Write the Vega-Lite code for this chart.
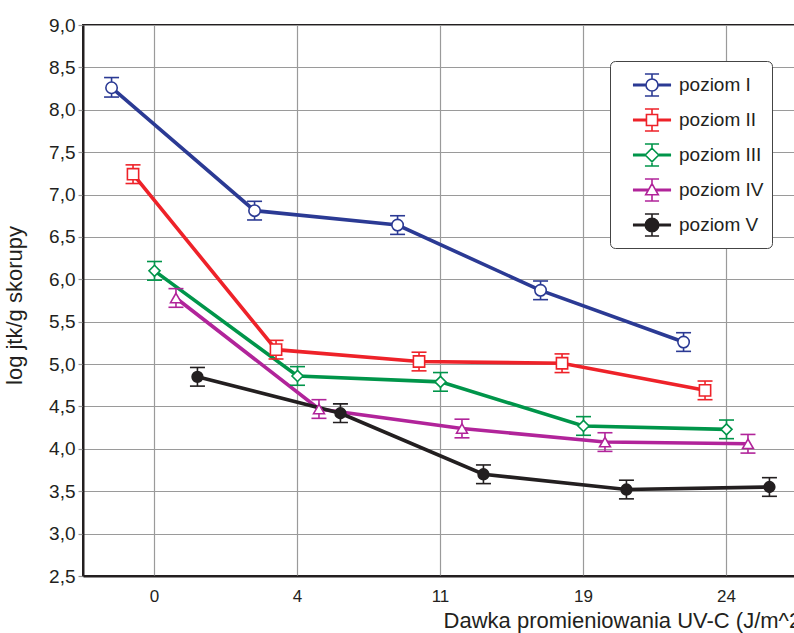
{
  "$schema": "https://vega.github.io/schema/vega-lite/v6.json",
  "autosize": {"type": "none"},
  "padding": {"left": 83, "top": 25, "right": 0, "bottom": 57},
  "width": 715,
  "height": 551,
  "background": "white",
  "config": {
    "font": "Liberation Sans",
    "view": {"stroke": "#231f20", "strokeWidth": 2},
    "axisY": {
      "labelFontSize": 19, "labelColor": "#231f20", "labelPadding": 3,
      "tickColor": "#999999", "tickSize": 5, "tickWidth": 1.2,
      "domainColor": "#231f20", "domainWidth": 2,
      "gridColor": "#9a9a9a", "gridWidth": 1.2, "gridOpacity": 1,
      "titleFontSize": 22, "titleFontWeight": "normal", "titleColor": "#231f20",
      "titleX": -57, "titleY": 280
    },
    "axisX": {
      "labelFontSize": 17, "labelColor": "#231f20", "labelPadding": 12,
      "ticks": false, "tickSize": 0, "labelAngle": 0,
      "domainColor": "#231f20", "domainWidth": 2,
      "gridColor": "#9a9a9a", "gridWidth": 1.2, "gridOpacity": 1,
      "titleFontSize": 22, "titleFontWeight": "normal", "titleColor": "#231f20",
      "titleAnchor": "end", "titleAlign": "right", "titleX": 725, "titlePadding": 6
    },
    "legend": {
      "orient": "none", "legendX": 527, "legendY": 36, "title": null,
      "labelFontSize": 19, "labelColor": "#231f20", "symbolSize": 900,
      "symbolStrokeWidth": 1.6, "symbolOpacity": 1, "labelOffset": 29,
      "rowPadding": 4, "padding": 8, "strokeColor": "#444444",
      "fillColor": "#ffffff", "cornerRadius": 5
    }
  },
  "data": {
    "values": [
      {"dose": "0", "series": "poziom I", "mean": 8.26, "lo": 8.15, "hi": 8.38},
      {"dose": "4", "series": "poziom I", "mean": 6.81, "lo": 6.70, "hi": 6.92},
      {"dose": "11", "series": "poziom I", "mean": 6.64, "lo": 6.53, "hi": 6.75},
      {"dose": "19", "series": "poziom I", "mean": 5.87, "lo": 5.76, "hi": 5.98},
      {"dose": "24", "series": "poziom I", "mean": 5.26, "lo": 5.15, "hi": 5.37},
      {"dose": "0", "series": "poziom II", "mean": 7.24, "lo": 7.13, "hi": 7.35},
      {"dose": "4", "series": "poziom II", "mean": 5.17, "lo": 5.06, "hi": 5.28},
      {"dose": "11", "series": "poziom II", "mean": 5.03, "lo": 4.92, "hi": 5.14},
      {"dose": "19", "series": "poziom II", "mean": 5.01, "lo": 4.90, "hi": 5.12},
      {"dose": "24", "series": "poziom II", "mean": 4.69, "lo": 4.58, "hi": 4.80},
      {"dose": "0", "series": "poziom III", "mean": 6.10, "lo": 5.99, "hi": 6.21},
      {"dose": "4", "series": "poziom III", "mean": 4.86, "lo": 4.75, "hi": 4.97},
      {"dose": "11", "series": "poziom III", "mean": 4.79, "lo": 4.68, "hi": 4.90},
      {"dose": "19", "series": "poziom III", "mean": 4.27, "lo": 4.16, "hi": 4.38},
      {"dose": "24", "series": "poziom III", "mean": 4.23, "lo": 4.12, "hi": 4.34},
      {"dose": "0", "series": "poziom IV", "mean": 5.78, "lo": 5.67, "hi": 5.89},
      {"dose": "4", "series": "poziom IV", "mean": 4.47, "lo": 4.36, "hi": 4.58},
      {"dose": "11", "series": "poziom IV", "mean": 4.24, "lo": 4.13, "hi": 4.35},
      {"dose": "19", "series": "poziom IV", "mean": 4.08, "lo": 3.97, "hi": 4.19},
      {"dose": "24", "series": "poziom IV", "mean": 4.06, "lo": 3.95, "hi": 4.17},
      {"dose": "0", "series": "poziom V", "mean": 4.85, "lo": 4.74, "hi": 4.96},
      {"dose": "4", "series": "poziom V", "mean": 4.42, "lo": 4.31, "hi": 4.53},
      {"dose": "11", "series": "poziom V", "mean": 3.70, "lo": 3.59, "hi": 3.81},
      {"dose": "19", "series": "poziom V", "mean": 3.52, "lo": 3.41, "hi": 3.63},
      {"dose": "24", "series": "poziom V", "mean": 3.55, "lo": 3.44, "hi": 3.66}
    ]
  },
  "encoding": {
    "x": {
      "field": "dose", "type": "ordinal", "sort": ["0", "4", "11", "19", "24"],
      "scale": {"type": "band", "paddingInner": 0, "paddingOuter": 0},
      "title": "Dawka promieniowania UV-C (J/m^2)",
      "axis": {"grid": true}
    },
    "xOffset": {
      "field": "series", "type": "nominal",
      "sort": ["poziom I", "poziom II", "poziom III", "poziom IV", "poziom V"],
      "scale": {"type": "band", "paddingInner": 0, "paddingOuter": 0.83}
    },
    "y": {
      "field": "mean", "type": "quantitative", "title": "log jtk/g skorupy",
      "scale": {"domain": [2.5, 9], "nice": false, "zero": false},
      "axis": {
        "values": [2.5, 3, 3.5, 4, 4.5, 5, 5.5, 6, 6.5, 7, 7.5, 8, 8.5, 9],
        "labelExpr": "replace(format(datum.value, '.1f'), '.', ',')",
        "grid": true
      }
    }
  },
  "layer": [
    {
      "mark": {"type": "line", "strokeWidth": 3.6},
      "encoding": {
        "stroke": {
          "field": "series", "type": "nominal",
          "scale": {"domain": ["poziom I", "poziom II", "poziom III", "poziom IV", "poziom V"],
                    "range": ["#2B3A94", "#EE2229", "#00954A", "#B1249A", "#231F20"]},
          "legend": null
        }
      }
    },
    {
      "mark": {"type": "rule", "strokeWidth": 1.6},
      "encoding": {
        "y": {"field": "lo", "type": "quantitative", "title": "log jtk/g skorupy"},
        "y2": {"field": "hi"},
        "stroke": {
          "field": "series", "type": "nominal",
          "scale": {"domain": ["poziom I", "poziom II", "poziom III", "poziom IV", "poziom V"],
                    "range": ["#2B3A94", "#EE2229", "#00954A", "#B1249A", "#231F20"]},
          "legend": null
        }
      }
    },
    {
      "mark": {"type": "tick", "orient": "horizontal", "thickness": 1.6, "size": 15, "opacity": 1},
      "encoding": {
        "y": {"field": "lo", "type": "quantitative", "title": "log jtk/g skorupy"},
        "color": {
          "field": "series", "type": "nominal",
          "scale": {"domain": ["poziom I", "poziom II", "poziom III", "poziom IV", "poziom V"],
                    "range": ["#2B3A94", "#EE2229", "#00954A", "#B1249A", "#231F20"]},
          "legend": null
        }
      }
    },
    {
      "mark": {"type": "tick", "orient": "horizontal", "thickness": 1.6, "size": 15, "opacity": 1},
      "encoding": {
        "y": {"field": "hi", "type": "quantitative", "title": "log jtk/g skorupy"},
        "color": {
          "field": "series", "type": "nominal",
          "scale": {"domain": ["poziom I", "poziom II", "poziom III", "poziom IV", "poziom V"],
                    "range": ["#2B3A94", "#EE2229", "#00954A", "#B1249A", "#231F20"]},
          "legend": null
        }
      }
    },
    {
      "mark": {"type": "point", "strokeWidth": 1.6, "opacity": 1},
      "encoding": {
        "stroke": {
          "field": "series", "type": "nominal",
          "scale": {"domain": ["poziom I", "poziom II", "poziom III", "poziom IV", "poziom V"],
                    "range": ["#2B3A94", "#EE2229", "#00954A", "#B1249A", "#231F20"]},
          "legend": null
        },
        "fill": {
          "field": "series", "type": "nominal",
          "scale": {"domain": ["poziom I", "poziom II", "poziom III", "poziom IV", "poziom V"],
                    "range": ["#ffffff", "#ffffff", "#ffffff", "#ffffff", "#231F20"]},
          "legend": null
        },
        "shape": {
          "field": "series", "type": "nominal",
          "scale": {"domain": ["poziom I", "poziom II", "poziom III", "poziom IV", "poziom V"],
                    "range": ["circle", "square", "diamond", "triangle-up", "circle"]},
          "legend": null
        },
        "size": {
          "field": "series", "type": "nominal",
          "scale": {"domain": ["poziom I", "poziom II", "poziom III", "poziom IV", "poziom V"],
                    "range": [130, 115, 150, 150, 190]},
          "legend": null
        }
      }
    },
    {
      "transform": [{"filter": "false"}],
      "mark": {"type": "point", "strokeWidth": 1.6, "opacity": 1, "size": 900},
      "encoding": {
        "stroke": {
          "field": "series", "type": "nominal",
          "scale": {"domain": ["poziom I", "poziom II", "poziom III", "poziom IV", "poziom V"],
                    "range": ["#2B3A94", "#EE2229", "#00954A", "#B1249A", "#231F20"]},
          "legend": {"title": null}
        },
        "fill": {
          "field": "series", "type": "nominal",
          "scale": {"domain": ["poziom I", "poziom II", "poziom III", "poziom IV", "poziom V"],
                    "range": ["#ffffff", "#ffffff", "#ffffff", "#ffffff", "#231F20"]},
          "legend": {"title": null}
        },
        "shape": {
          "field": "series", "type": "nominal",
          "scale": {"domain": ["poziom I", "poziom II", "poziom III", "poziom IV", "poziom V"],
                    "range": [
                      "M-0.07,-0.04H0.8M-0.07,0.04H0.8M1.6,-0.04H2.47M1.6,0.04H2.47M1.2,-0.4V-0.73M0.73,-0.73H1.67M1.2,0.4V0.73M0.73,0.73H1.67M1.6,0A0.4,0.4,0,1,1,0.8,0A0.4,0.4,0,1,1,1.6,0Z",
                      "M-0.07,-0.04H0.83M-0.07,0.04H0.83M1.57,-0.04H2.47M1.57,0.04H2.47M1.2,-0.37V-0.73M0.73,-0.73H1.67M1.2,0.37V0.73M0.73,0.73H1.67M0.83,-0.37H1.57V0.37H0.83Z",
                      "M-0.07,-0.04H0.75M-0.07,0.04H0.75M1.65,-0.04H2.47M1.65,0.04H2.47M1.2,-0.45V-0.73M0.73,-0.73H1.67M1.2,0.45V0.73M0.73,0.73H1.67M1.2,-0.45L1.65,0L1.2,0.45L0.75,0Z",
                      "M-0.07,-0.04H0.95M-0.07,0.04H0.95M1.45,-0.04H2.47M1.45,0.04H2.47M1.2,-0.42V-0.73M0.73,-0.73H1.67M1.2,0.32V0.73M0.73,0.73H1.67M1.2,-0.42L1.62,0.32H0.78Z",
                      "M-0.07,-0.04H0.75M-0.07,0.04H0.75M1.65,-0.04H2.47M1.65,0.04H2.47M1.2,-0.45V-0.73M0.73,-0.73H1.67M1.2,0.45V0.73M0.73,0.73H1.67M1.65,0A0.45,0.45,0,1,1,0.75,0A0.45,0.45,0,1,1,1.65,0Z"
                    ]},
          "legend": {"title": null}
        }
      }
    }
  ],
  "resolve": {"scale": {"stroke": "independent", "fill": "independent", "shape": "independent", "color": "independent", "size": "independent"}}
}
